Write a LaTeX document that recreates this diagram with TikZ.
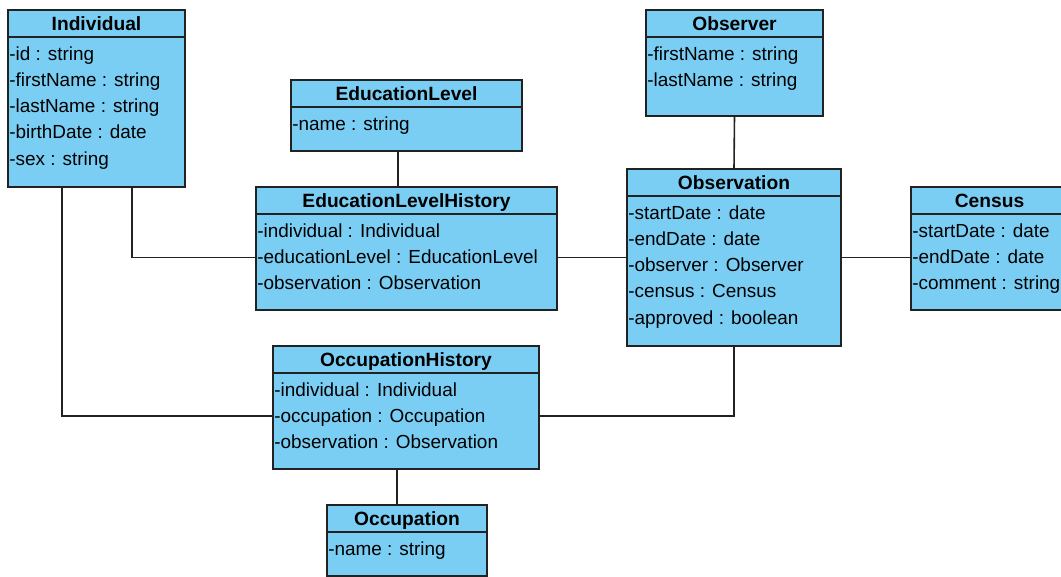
\documentclass[tikz,border=0pt]{standalone}
\usepackage{fontspec}
\setmainfont{Liberation Sans}
\usetikzlibrary{calc}

\definecolor{classfill}{RGB}{122,206,244}
\definecolor{classedge}{RGB}{34,34,34}

\tikzset{
  classbox/.style={draw=classedge, fill=classfill, line width=1.3pt,
    inner sep=0pt, outer sep=0pt, rectangle},
  classline/.style={draw=classedge, line width=1.3pt},
  classtitle/.style={inner sep=0pt, font=\fontsize{14.4}{17}\selectfont\bfseries},
  classattr/.style={inner sep=0pt, font=\fontsize{14.2}{17}\selectfont},
  assoc/.style={draw=classedge, line width=1.2pt},
}

% name, left, top, width, height, title, attributes
\newcommand\umlclass[7]{%
  \node[classbox, minimum width={#4*0.75pt}, minimum height={#5*0.75pt},
        anchor=north west] (#1) at (#2,#3) {};
  \draw[classline] ($(#1.north west)+(0,27)$) -- ($(#1.north east)+(0,27)$);
  \node[classtitle, anchor=base] (#1-title) at ($(#1.north)+(0,20.5)$) {#6};
  \foreach \a [count=\i] in {#7} {
    \node[classattr, anchor=base west] (#1-\i)
      at ($(#1.north west)+(1,50+26.3*\i-26.3)$) {\a};
  }
}

\begin{document}
\begin{tikzpicture}[x=0.75pt, y=-0.75pt]
\useasboundingbox (0,0) rectangle (1061,576);
\clip (0,0) rectangle (1061,576);

\umlclass{ind}{8}{10}{177}{177}{Individual}
  {-id : string,-firstName : string,-lastName : string,-birthDate : date,-sex : string}
\umlclass{edl}{291}{80}{231}{71}{EducationLevel}{-name : string}
\umlclass{elh}{256}{187}{301}{123}{EducationLevelHistory}
  {-individual : Individual,-educationLevel : EducationLevel,-observation : Observation}
\umlclass{obsr}{646}{10}{177}{106}{Observer}{-firstName : string,-lastName : string}
\umlclass{obs}{627}{169}{214}{177}{Observation}
  {-startDate : date,-endDate : date,-observer : Observer,-census : Census,-approved : boolean}
\umlclass{cen}{911}{187}{157}{123}{Census}
  {-startDate : date,-endDate : date,-comment : string}
\umlclass{occh}{273}{346}{266}{123}{OccupationHistory}
  {-individual : Individual,-occupation : Occupation,-observation : Observation}
\umlclass{occ}{327}{505}{160}{71}{Occupation}{-name : string}

% attachment points off the box centres
\coordinate (ind-p1) at ($(ind.south west)+(124,0)$);
\coordinate (ind-p2) at ($(ind.south west)+(54,0)$);
\coordinate (edl-p) at ($(edl.south west)+(107,0)$);
\coordinate (occh-p1) at ($(occh.west)+(0,8.5)$);
\coordinate (occh-p2) at ($(occh.east)+(0,8.5)$);
\coordinate (occh-p3) at ($(occh.south west)+(124,0)$);

% associations
\draw[assoc] (ind-p1) |- (elh.west |- obs.west);
\draw[assoc] (ind-p2) |- (occh-p1);
\draw[assoc] (edl-p) -- (edl-p |- elh.north);
\draw[assoc] (elh.east |- obs.west) -- (obs.west);
\draw[assoc] (obsr.south) -- (obs.north);
\draw[assoc] (obs.east) -- (obs.east -| cen.west);
\draw[assoc] (occh-p2) -| (obs.south);
\draw[assoc] (occh-p3) -- (occh-p3 |- occ.north);
\end{tikzpicture}
\end{document}
